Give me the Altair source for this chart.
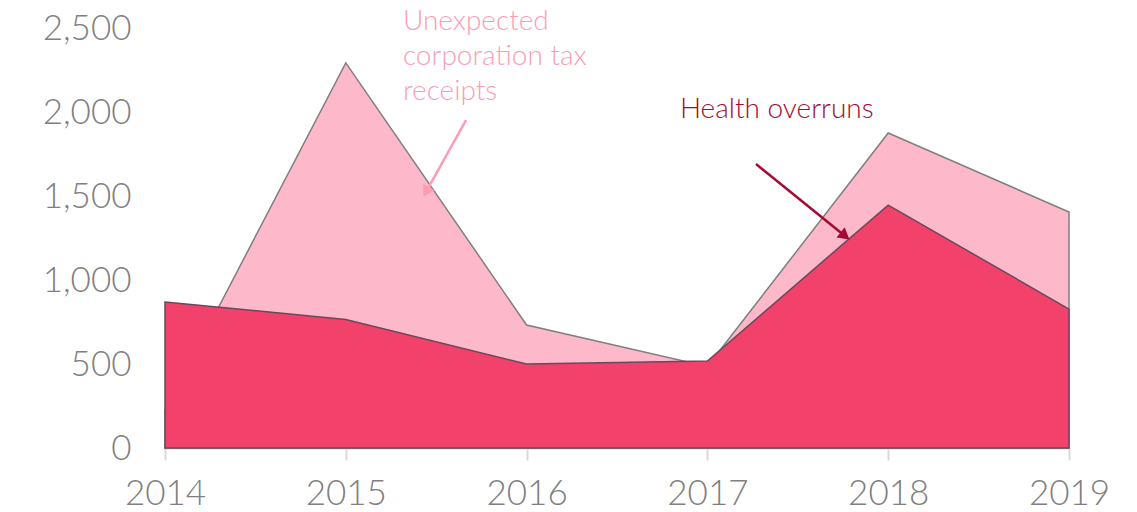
import altair as alt
import pandas as pd

years = [2014, 2015, 2016, 2017, 2018, 2019]
corp_tax = [226, 2292, 732, 485, 1875, 1405]
health = [869, 765, 500, 518, 1446, 827]

y_ticks = [0, 500, 1000, 1500, 2000, 2500]

# annotation positions (data units)
tax_label_lines = ["Unexpected", "corporation tax", "receipts"]
tax_label_pos = [2015.316, 2535]
health_label = "Health overruns"
health_label_pos = [2016.848, 2010]
tax_arrow = [2015.665, 1952, 2015.444, 1524]
health_arrow = [2017.269, 1690, 2017.761, 1262]

FONT = "Lato"
PINK = "#FDB9CA"
RED = "#F2416B"

df = pd.DataFrame({"year": years, "tax": corp_tax, "health": health})

x = alt.X("year:Q", scale=alt.Scale(domain=[2014, 2019], nice=False, zero=False),
          axis=alt.Axis(values=years, format="d", title=None, grid=False, labelFlush=False,
                        domainColor="#d9d9d9", domainWidth=2, tickColor="#d9d9d9",
                        tickSize=12, tickWidth=2, labelFontSize=35, labelColor="#808080",
                        labelFont=FONT, labelPadding=16, labelFontWeight=300))
y_scale = alt.Scale(domain=[0, 2500], nice=False)

tax_area = alt.Chart(df).mark_area(color=PINK, stroke="#7f7f7f", strokeWidth=1.5, opacity=1).encode(
    x=x,
    y=alt.Y("tax:Q", scale=y_scale,
            axis=alt.Axis(values=y_ticks, format=",.0f", title=None, grid=False, domain=False,
                          ticks=False, labelFontSize=35, labelColor="#808080", labelFont=FONT,
                          labelPadding=34, labelFontWeight=300)),
)

health_area = alt.Chart(df).mark_area(color=RED, stroke="#6a4a5a", strokeWidth=1.5, opacity=1).encode(
    x=alt.X("year:Q"),
    y=alt.Y("health:Q", scale=y_scale),
)

ann = pd.DataFrame({
    "x": [tax_arrow[0], health_arrow[0]],
    "y": [tax_arrow[1], health_arrow[1]],
    "x2": [tax_arrow[2], health_arrow[2]],
    "y2": [tax_arrow[3], health_arrow[3]],
    "c": ["#FB9DB5", "#A50A32"],
    "angle": [209, 129],
})

arrows = alt.Chart(ann).mark_rule(strokeWidth=2.5).encode(
    x="x:Q", y="y:Q", x2="x2:Q", y2="y2:Q",
    color=alt.Color("c:N", scale=None),
)
heads = alt.Chart(ann).mark_point(shape="triangle-up", filled=True, size=170, opacity=1).encode(
    x="x2:Q", y="y2:Q",
    color=alt.Color("c:N", scale=None),
    angle=alt.Angle("angle:Q", scale=None),
)

tax_text = alt.Chart(pd.DataFrame({"x": [tax_label_pos[0]], "y": [tax_label_pos[1]],
                                   "t": ["\n".join(tax_label_lines)]})).mark_text(
    align="left", baseline="middle", fontSize=28, font=FONT, color="#FB9DB5",
    lineBreak="\n", lineHeight=35, fontWeight=300,
).encode(x="x:Q", y="y:Q", text="t:N")

health_text = alt.Chart(pd.DataFrame({"x": [health_label_pos[0]], "y": [health_label_pos[1]],
                                      "t": [health_label]})).mark_text(
    align="left", baseline="middle", fontSize=28, font=FONT, color="#A50A32", fontWeight=300,
).encode(x="x:Q", y="y:Q", text="t:N")

chart = alt.layer(tax_area, health_area, arrows, heads, tax_text, health_text).properties(
    width=904, height=420,
    autosize=alt.AutoSizeParams(type="none"),
    padding={"left": 157, "top": 20, "right": 60, "bottom": 62},
).configure_view(stroke=None)

chart.save("out.html", embed_options={"renderer": "svg", "actions": False})
